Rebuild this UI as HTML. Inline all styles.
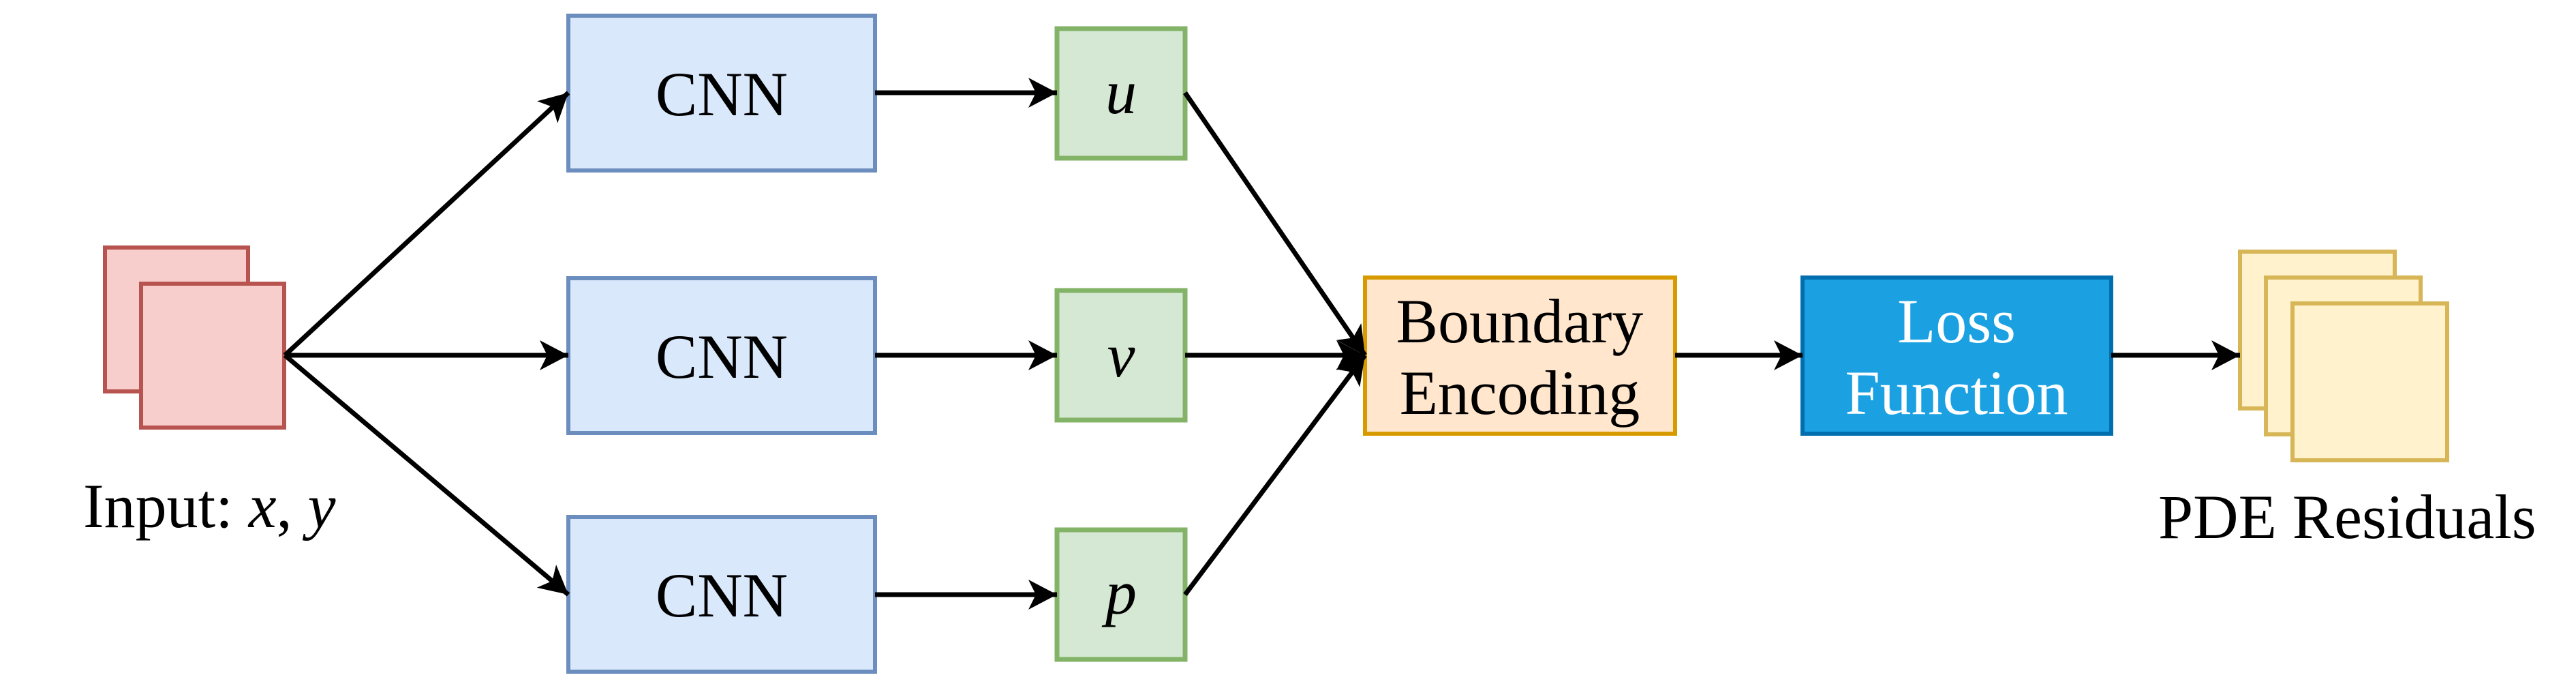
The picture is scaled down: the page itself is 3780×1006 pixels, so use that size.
<!DOCTYPE html>
<html><head><meta charset="utf-8"><style>
html,body{margin:0;padding:0;background:#fff;}
svg{display:block;}
text{font-family:"Liberation Serif","Times New Roman",serif;font-size:92px;fill:#000;}
</style></head><body>
<svg width="3780" height="1006" viewBox="0 0 3780 1006" xmlns="http://www.w3.org/2000/svg">
<defs>
<marker id="a" markerUnits="userSpaceOnUse" markerWidth="48" markerHeight="48" refX="42" refY="22" orient="auto">
<path d="M0,0 L42,22 L0,44 L11,22 Z" fill="#000"/>
</marker>
</defs>
<rect x="154" y="363" width="210" height="211" fill="#f8cecc" stroke="#b85450" stroke-width="6"/>
<rect x="207" y="416" width="210" height="211" fill="#f8cecc" stroke="#b85450" stroke-width="6"/>
<g font-family="Liberation Serif, Times New Roman, serif" font-size="92">
<text x="122" y="773">Input: <tspan font-style="italic">x</tspan>, <tspan font-style="italic">y</tspan></text>

<rect x="834" y="23" width="450" height="227" fill="#dae8fc" stroke="#6c8ebf" stroke-width="6"/>
<rect x="834" y="408" width="450" height="227" fill="#dae8fc" stroke="#6c8ebf" stroke-width="6"/>
<rect x="834" y="758" width="450" height="227" fill="#dae8fc" stroke="#6c8ebf" stroke-width="6"/>
<text x="1059" y="169" text-anchor="middle">CNN</text>
<text x="1059" y="554" text-anchor="middle">CNN</text>
<text x="1059" y="904" text-anchor="middle">CNN</text>

<rect x="1551" y="42" width="188" height="190" fill="#d5e8d4" stroke="#82b366" stroke-width="7"/>
<rect x="1551" y="426" width="188" height="190" fill="#d5e8d4" stroke="#82b366" stroke-width="7"/>
<rect x="1551" y="777" width="188" height="190" fill="#d5e8d4" stroke="#82b366" stroke-width="7"/>
<text x="1645" y="166" text-anchor="middle" font-style="italic">u</text>
<text x="1645" y="552" text-anchor="middle" font-style="italic">v</text>
<text x="1645" y="900" text-anchor="middle" font-style="italic">p</text>

<rect x="2003" y="407" width="455" height="229" fill="#ffe6cc" stroke="#d79b00" stroke-width="6"/>
<text x="2230" y="502" text-anchor="middle">Boundary</text>
<text x="2230" y="607" text-anchor="middle">Encoding</text>
<rect x="2645" y="407" width="453" height="229" fill="#1ba1e2" stroke="#006eaf" stroke-width="6"/>
<text x="2871" y="502" text-anchor="middle" style="fill:#fff">Loss</text>
<text x="2871" y="607" text-anchor="middle" style="fill:#fff">Function</text>

<rect x="3287" y="369" width="227" height="230" fill="#fff2cc" stroke="#d6b656" stroke-width="6"/>
<rect x="3325" y="407" width="227" height="230" fill="#fff2cc" stroke="#d6b656" stroke-width="6"/>
<rect x="3364" y="445" width="227" height="230" fill="#fff2cc" stroke="#d6b656" stroke-width="6"/>
<text x="3167" y="789">PDE Residuals</text>
</g>

<g stroke="#000" stroke-width="7" fill="none">
<line x1="418" y1="521" x2="834" y2="136" marker-end="url(#a)"/>
<line x1="418" y1="521" x2="834" y2="521" marker-end="url(#a)"/>
<line x1="418" y1="521" x2="834" y2="872" marker-end="url(#a)"/>
<line x1="1284" y1="136" x2="1551" y2="136" marker-end="url(#a)"/>
<line x1="1284" y1="521" x2="1551" y2="521" marker-end="url(#a)"/>
<line x1="1284" y1="872" x2="1551" y2="872" marker-end="url(#a)"/>
<line x1="1739" y1="136" x2="2003" y2="521" marker-end="url(#a)"/>
<line x1="1739" y1="521" x2="2003" y2="521" marker-end="url(#a)"/>
<line x1="1739" y1="872" x2="2003" y2="521" marker-end="url(#a)"/>
<line x1="2458" y1="521" x2="2645" y2="521" marker-end="url(#a)"/>
<line x1="3098" y1="521" x2="3287" y2="521" marker-end="url(#a)"/>
</g>
</svg>
</body></html>
